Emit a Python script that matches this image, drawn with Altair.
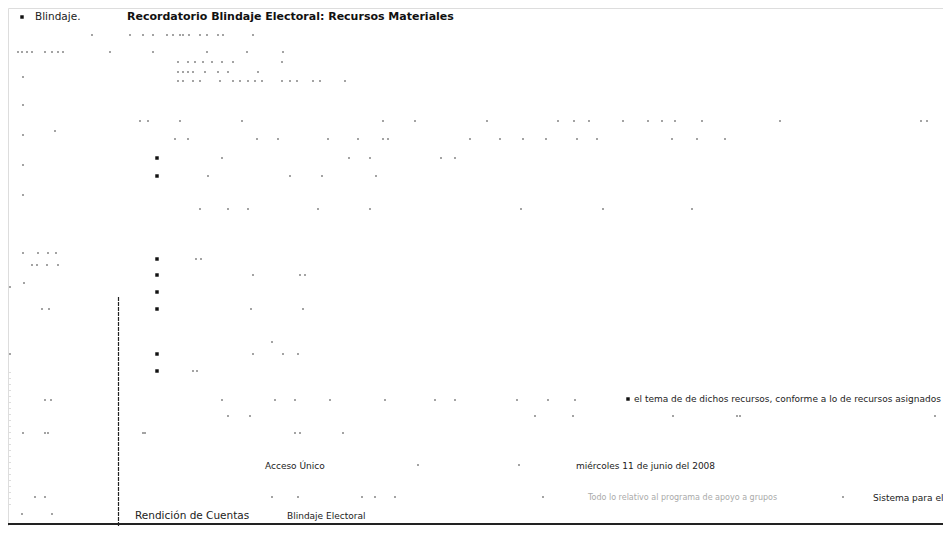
import altair as alt
import pandas as pd

# ---- text content (positions, in page pixels) ----
title_text = ["Recordatorio Blindaje Electoral: Recursos Materiales"]
title_x = [127]
title_y = [17]

small_text = ["el tema de de dichos recursos, conforme a lo de recursos asignados",
              "Acceso Único", "miércoles 11 de junio del 2008", "Sistema para el",
              "Blindaje Electoral"]
small_x = [634, 265, 576, 873, 287]
small_y = [399, 466, 466, 498, 516]

mid_text = ["Blindaje.", "Rendición de Cuentas"]
mid_x = [35, 135]
mid_y = [17, 516]

faint_text = ["Todo lo relativo al programa de apoyo a grupos"]
faint_x = [588]
faint_y = [498]

# ---- bullets ----
bullet_x = [157, 157, 157, 157, 157, 157, 157, 157, 22, 628]
bullet_y = [158, 176, 259, 275, 292, 309, 354, 371, 17, 399]

# ---- scattered specks (rows of faded text) ----
speck_rows = [
    (35, [92, 130, 143, 153, 167, 173, 180, 183, 189, 200, 207, 218, 223, 253]),
    (52, [18, 22, 27, 32, 45, 52, 58, 63, 110, 153, 207, 247, 283]),
    (62, [178, 188, 195, 203, 212, 222, 233, 282]),
    (72, [178, 183, 188, 193, 205, 218, 228, 258]),
    (81, [178, 183, 193, 200, 220, 233, 240, 248, 255, 262, 282, 290, 297, 313, 320, 345]),
    (77, [23]), (105, [23]), (131, [55]), (135, [23]), (165, [23]), (195, [23]),
    (121, [140, 148, 180, 242, 383, 415, 487, 558, 574, 589, 623, 648, 662, 675, 702, 780, 921, 927]),
    (139, [175, 188, 257, 278, 328, 358, 383, 388, 470, 500, 523, 546, 577, 597, 672, 697, 725]),
    (158, [222, 349, 370, 441, 455]),
    (176, [208, 290, 322, 376]),
    (209, [200, 228, 248, 318, 370, 521, 603, 692]),
    (253, [23, 38, 48, 56]),
    (265, [32, 37, 47, 58]),
    (259, [196, 201]),
    (275, [253, 300, 305]),
    (283, [24]), (287, [10]),
    (309, [42, 49, 251, 303]),
    (342, [272]),
    (354, [10, 253, 283, 298]),
    (371, [193, 197]),
    (400, [45, 51, 222, 275, 295, 330, 385, 435, 455, 517, 548, 575]),
    (416, [228, 250, 535, 573, 673, 737, 740, 935]),
    (433, [23, 45, 48, 143, 145, 295, 300, 343]),
    (465, [418, 519]),
    (497, [35, 45, 272, 298, 362, 375, 395, 543, 843]),
    (514, [22, 52]),
]

# ---- rules ----
vrule_x = [118.5]
vrule_y = [297]
vrule_y2 = [526]
hrule_y = [524]

# build tables
titles = pd.DataFrame({"t": title_text, "x": title_x, "y": title_y})
smalls = pd.DataFrame({"t": small_text, "x": small_x, "y": small_y})
mids = pd.DataFrame({"t": mid_text, "x": mid_x, "y": mid_y})
faints = pd.DataFrame({"t": faint_text, "x": faint_x, "y": faint_y})
bullets = pd.DataFrame({"x": bullet_x, "y": bullet_y})
specks = pd.DataFrame([{"x": x, "y": y} for y, xs in speck_rows for x in xs])
vrule = pd.DataFrame({"x": vrule_x, "y": vrule_y, "y2": vrule_y2})
hrule = pd.DataFrame({"x": [8], "x2": [943], "y": hrule_y})
lrule = pd.DataFrame({"x": [10], "y": [372], "y2": [505]})

W, H = 935, 518
xs = alt.Scale(domain=[8, 8 + W], nice=False, zero=False)
ys = alt.Scale(domain=[8, 8 + H], nice=False, zero=False, reverse=True)
X = lambda f="x": alt.X(f"{f}:Q", scale=xs, axis=None)
Y = lambda f="y": alt.Y(f"{f}:Q", scale=ys, axis=None)

font = "DejaVu Sans"

title_layer = alt.Chart(titles).mark_text(
    align="left", baseline="middle", font=font, fontSize=11, fontWeight="bold", color="#111"
).encode(x=X(), y=Y(), text="t:N")

small_layer = alt.Chart(smalls).mark_text(
    align="left", baseline="middle", font=font, fontSize=9, color="#222"
).encode(x=X(), y=Y(), text="t:N")

mid_layer = alt.Chart(mids).mark_text(
    align="left", baseline="middle", font=font, fontSize=10.5, color="#222"
).encode(x=X(), y=Y(), text="t:N")

faint_layer = alt.Chart(faints).mark_text(
    align="left", baseline="middle", font=font, fontSize=8, color="#aaa"
).encode(x=X(), y=Y(), text="t:N")

bullet_layer = alt.Chart(bullets).mark_square(size=12, color="#111", opacity=1).encode(x=X(), y=Y())

speck_layer = alt.Chart(specks).mark_square(size=2.5, color="#666", opacity=1).encode(x=X(), y=Y())

vrule_layer = alt.Chart(vrule).mark_rule(color="#222", strokeWidth=1.2, strokeDash=[4, 1]).encode(
    x=X(), y=Y(), y2="y2:Q")
lrule_layer = alt.Chart(lrule).mark_rule(color="#bbb", strokeWidth=1, strokeDash=[1, 5]).encode(
    x=X(), y=Y(), y2="y2:Q")
hrule_layer = alt.Chart(hrule).mark_rule(color="#222", strokeWidth=2).encode(
    x=X(), x2="x2:Q", y=Y())

chart = alt.layer(
    speck_layer, bullet_layer, vrule_layer, lrule_layer, hrule_layer,
    title_layer, small_layer, mid_layer, faint_layer
).properties(
    width=W, height=H, padding=0, autosize=alt.AutoSizeParams(type="none")
).configure_view(stroke="transparent", strokeWidth=0).configure(background="white")

chart.save("out.html", embed_options={"renderer": "svg", "actions": False})
